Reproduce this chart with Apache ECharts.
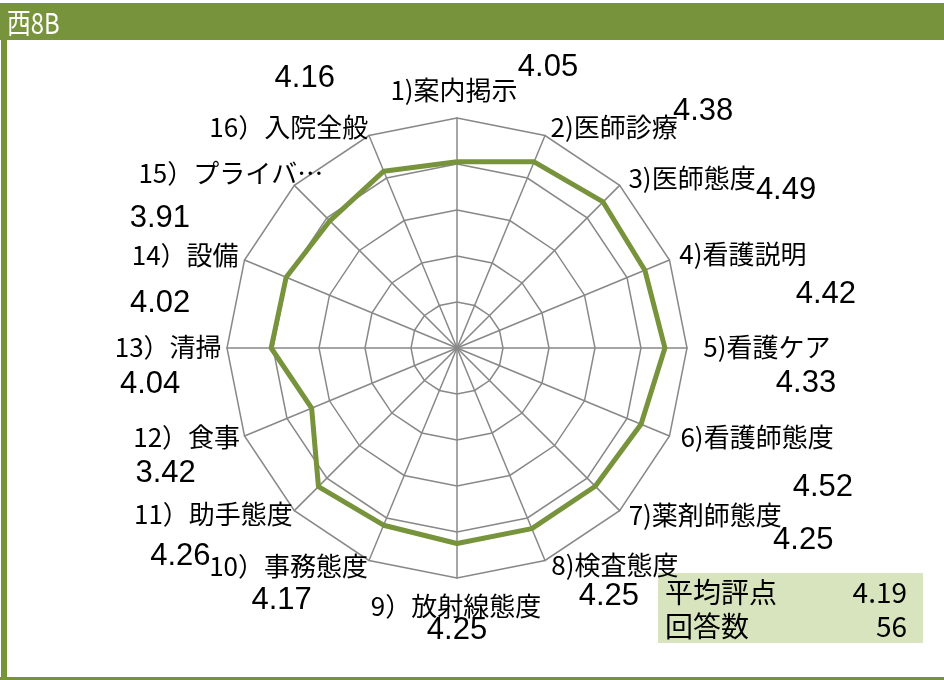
<!DOCTYPE html>
<html>
<head>
<meta charset="utf-8">
<title>西8B</title>
<script src="https://cdn.jsdelivr.net/npm/echarts@6/dist/echarts.min.js"></script>
<style>
  html, body { margin: 0; padding: 0; background: #fff; }
  #main { width: 944px; height: 680px; }
</style>
</head>
<body>
<div id="main"></div>
<script>
// 項目名 (1〜16)
var categories = ['1)案内掲示', '2)医師診療', '3)医師態度', '4)看護説明', '5)看護ケア', '6)看護師態度',
  '7)薬剤師態度', '8)検査態度', '9）放射線態度', '10）事務態度', '11）助手態度', '12）食事',
  '13）清掃', '14）設備', '15）プライバ…', '16）入院全般'];
// 評点
var scores = [4.05, 4.38, 4.49, 4.42, 4.52, 4.33, 4.25, 4.25, 4.25, 4.17, 4.26, 3.42, 4.04, 4.02, 3.91, 4.16];
var scaleMax = 5;
var titleText = '西8B';
var summaryLabels = ['平均評点', '回答数'];
var summaryValues = ['4.19', '56'];

// ラベル位置のずれ (点からのオフセット)
var nameOffsets = [[-3, -72], [80, -35], [89, -24], [98, -16], [102, -1], [116, 13], [110, 29], [83, 37],
  [-1, 63], [-95, 41], [-105, 28], [-125, 29], [-103, -1], [-101, -22], [-99, -48], [-95, -44]];
var valueOffsets = [[91, -94], [169, -50], [183, -12], [181, 24], [158, 139], [165, -41], [208, 54], [77, 68],
  [0, 87], [-102, 75], [-138, 70], [-146, 65], [-121, 36], [-126, 26], [-170, -2], [-79, -93]];

var GREEN = '#77933C';
var GRID = '#888888';
var CJK = '"Noto Sans CJK JP", "Noto Sans", sans-serif';

// echartsのレーダーは反時計回りなので並びを入れ替える (1を上にして時計回り)
var n = categories.length;
var order = categories.map(function (_, k) { return (n - k) % n; });

function isMissing(v) {
  return v === '-' || v == null || (typeof v === 'number' && isNaN(v));
}

// 1項目だけ値を持つデータ (ラベル用)
function onlyOne(i) {
  return order.map(function (c) { return c === i ? scores[i] : '-'; });
}

var chart = echarts.init(document.getElementById('main'), null, { renderer: 'canvas' });

var option = {
  animation: false,
  backgroundColor: '#fff',
  radar: {
    center: [457, 348],
    radius: 230,
    startAngle: 90,
    splitNumber: 5,
    shape: 'polygon',
    indicator: order.map(function (c) { return { name: categories[c], min: 0, max: scaleMax }; }),
    axisName: { show: false },
    axisLine: { lineStyle: { color: GRID, width: 1.5 } },
    splitLine: { lineStyle: { color: GRID, width: 1.5 } },
    splitArea: { show: false },
    axisTick: { show: false },
    axisLabel: { show: false }
  },
  series: [
    {
      type: 'radar',
      z: 3,
      silent: true,
      symbol: 'none',
      lineStyle: { color: GREEN, width: 5 },
      itemStyle: { color: GREEN },
      data: [{ value: order.map(function (c) { return scores[c]; }), name: titleText }]
    },
    {
      // 項目名
      type: 'radar',
      z: 4,
      silent: true,
      symbol: 'circle',
      symbolSize: 1,
      itemStyle: { color: 'rgba(0,0,0,0)' },
      lineStyle: { opacity: 0, width: 0 },
      data: categories.map(function (name, i) {
        return {
          value: onlyOne(i),
          label: {
            show: true,
            position: 'inside',
            align: 'center',
            verticalAlign: 'middle',
            offset: nameOffsets[i],
            color: '#000',
            fontSize: 26,
            fontFamily: CJK,
            formatter: function (p) { return isMissing(p.value) ? '' : name; }
          }
        };
      })
    },
    {
      // 値ラベル
      type: 'radar',
      z: 4,
      silent: true,
      symbol: 'circle',
      symbolSize: 1,
      itemStyle: { color: 'rgba(0,0,0,0)' },
      lineStyle: { opacity: 0, width: 0 },
      data: scores.map(function (v, i) {
        return {
          value: onlyOne(i),
          label: {
            show: true,
            position: 'inside',
            align: 'center',
            verticalAlign: 'middle',
            offset: valueOffsets[i],
            color: '#000',
            fontSize: 31,
            fontFamily: '"Liberation Sans", Arial, sans-serif',
            formatter: function (p) { return isMissing(p.value) ? '' : Number(p.value).toFixed(2); }
          }
        };
      })
    }
  ],
  graphic: [
    // タイトルバー・枠
    { type: 'rect', left: 0, top: 3, shape: { width: 944, height: 37 }, style: { fill: GREEN }, silent: true },
    { type: 'rect', left: 1, top: 3, shape: { width: 6, height: 677 }, style: { fill: GREEN }, silent: true },
    { type: 'rect', left: 0, top: 677, shape: { width: 944, height: 3 }, style: { fill: GREEN }, silent: true },
    {
      type: 'text', x: 7, y: 23, scaleX: 0.82, silent: true,
      style: { text: titleText, fill: '#fff', font: '29px ' + CJK, verticalAlign: 'middle' }
    },
    // 平均評点 / 回答数
    { type: 'rect', left: 658, top: 573, shape: { width: 265, height: 70 }, style: { fill: '#D7E4BD' }, silent: true },
    {
      type: 'text', x: 665, y: 592, silent: true,
      style: { text: summaryLabels[0], fill: '#000', font: '28px ' + CJK, verticalAlign: 'middle' }
    },
    {
      type: 'text', x: 907, y: 592, silent: true,
      style: { text: summaryValues[0], fill: '#000', font: '28px ' + CJK, align: 'right', verticalAlign: 'middle' }
    },
    {
      type: 'text', x: 665, y: 626, silent: true,
      style: { text: summaryLabels[1], fill: '#000', font: '28px ' + CJK, verticalAlign: 'middle' }
    },
    {
      type: 'text', x: 907, y: 626, silent: true,
      style: { text: summaryValues[1], fill: '#000', font: '28px ' + CJK, align: 'right', verticalAlign: 'middle' }
    }
  ]
};

chart.setOption(option);
</script>
</body>
</html>
